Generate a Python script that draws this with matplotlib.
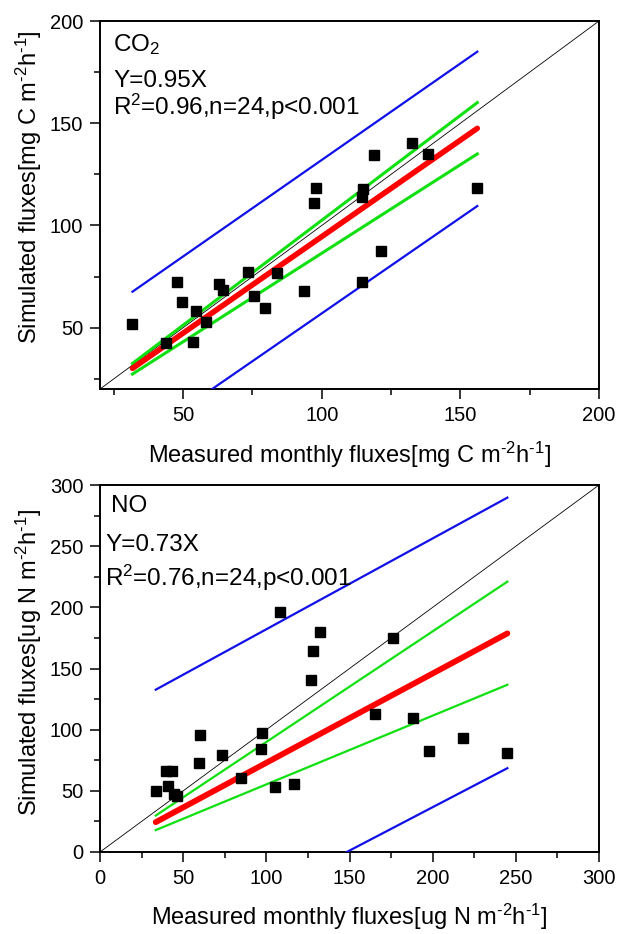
import numpy as np
import matplotlib
matplotlib.use("Agg")
import matplotlib.pyplot as plt

# -----------------------------
# Data
# -----------------------------

co2_measured = [31.7, 43.7, 47.9, 49.5, 54.8, 53.4, 58.2, 62.8, 64.2, 73.2,
                75.4, 79.6, 83.9, 93.7, 97.3, 98.0, 114.6, 114.8, 114.5,
                118.8, 121.4, 132.5, 138.3, 156.1]
co2_simulated = [51.8, 42.4, 72.5, 62.6, 58.3, 42.8, 52.9, 71.4, 68.4, 77.4,
                 65.5, 59.8, 76.9, 67.9, 110.8, 118.5, 72.5, 117.6, 113.7,
                 134.5, 87.7, 140.2, 135.0, 118.2]

# line end values at min / max measured flux
co2_fit = [30.1, 147.5]
co2_conf_upper = [32.5, 160.1]
co2_conf_lower = [27.3, 135.0]
co2_pred_upper = [67.6, 185.0]
co2_pred_lower = [-6.9, 109.5]

no_measured = [33.5, 39.6, 43.2, 40.6, 46.0, 44.5, 59.4, 60.0, 73.6, 84.8,
               97.4, 96.9, 105.0, 108.1, 116.9, 127.1, 127.8, 132.3, 165.3,
               176.0, 188.1, 197.6, 218.3, 244.9]
no_simulated = [50.0, 66.5, 66.5, 54.0, 46.0, 47.5, 73.0, 95.6, 79.3, 60.4,
                96.9, 83.9, 52.8, 196.6, 55.5, 140.3, 164.1, 180.1, 112.6,
                174.7, 109.7, 82.9, 92.9, 80.7]

no_fit = [24.4, 178.7]
no_conf_upper = [29.8, 221.0]
no_conf_lower = [17.9, 136.7]
no_pred_upper = [132.7, 289.7]
no_pred_lower = [-81.5, 68.5]

co2_ticks = [50, 100, 150, 200]
co2_minor = [25, 75, 125, 175]
no_ticks = [0, 50, 100, 150, 200, 250, 300]
no_minor = [25, 75, 125, 175, 225, 275]

# -----------------------------
# Style
# -----------------------------

plt.rcParams["font.family"] = ["Liberation Sans", "DejaVu Sans"]
plt.rcParams["mathtext.fontset"] = "custom"
plt.rcParams["mathtext.rm"] = "Liberation Sans"
plt.rcParams["mathtext.it"] = "Liberation Sans"
plt.rcParams["mathtext.default"] = "regular"

unit_c = r"[mg C m$^{\text{-}2}$h$^{\text{-}1}$]"
unit_n = r"[ug N m$^{\text{-}2}$h$^{\text{-}1}$]"

fig = plt.figure(figsize=(6.19, 9.34), dpi=100)

ax1 = fig.add_axes([0.1616, 0.5835, 0.8061, 0.3940])
ax2 = fig.add_axes([0.1616, 0.0878, 0.8061, 0.3929])


def draw_panel(ax, meas, sim, fit, cu, cl, pu, pl, lim, ticks, minor,
               lw_fit, lw_conf):
    x = [min(meas), max(meas)]

    ax.plot(lim, lim, color="black", lw=0.6, zorder=2)
    ax.plot(x, pu, color="#1010e8", lw=1.6, zorder=3)
    ax.plot(x, pl, color="#1010e8", lw=1.6, zorder=3)
    ax.plot(x, cu, color="#10e010", lw=lw_conf, zorder=4)
    ax.plot(x, cl, color="#10e010", lw=lw_conf, zorder=4)
    ax.plot(x, fit, color="#ff0000", lw=lw_fit, solid_capstyle="round",
            zorder=5)
    ax.plot(meas, sim, "s", color="black", markersize=7.5, zorder=6)

    ax.set_xlim(lim)
    ax.set_ylim(lim)
    ax.set_xticks(ticks)
    ax.set_yticks(ticks)
    ax.set_xticks(minor, minor=True)
    ax.set_yticks(minor, minor=True)

    ax.tick_params(which="major", direction="out", length=7, width=1.1,
                   labelsize=14.5, pad=5)
    ax.tick_params(which="minor", direction="out", length=4.5, width=1.1)
    for s in ax.spines.values():
        s.set_linewidth(1.4)


# -----------------------------
# CO2 panel
# -----------------------------

draw_panel(ax1, co2_measured, co2_simulated, co2_fit, co2_conf_upper,
           co2_conf_lower, co2_pred_upper, co2_pred_lower, [20, 200],
           co2_ticks, co2_minor, lw_fit=4.0, lw_conf=2.2)

ax1.text(0.026, 0.918, "CO$_2$", transform=ax1.transAxes, fontsize=17.5)
ax1.text(0.026, 0.822, "Y=0.95X", transform=ax1.transAxes, fontsize=17.5)
ax1.text(0.026, 0.745, "R$^2$=0.96,n=24,p<0.001", transform=ax1.transAxes,
         fontsize=17.5)

ax1.set_xlabel("Measured monthly fluxes" + unit_c, fontsize=17, labelpad=11)
ax1.set_ylabel("Simulated fluxes" + unit_c, fontsize=17)
ax1.yaxis.set_label_coords(-0.113, 0.548)

# -----------------------------
# NO panel
# -----------------------------

draw_panel(ax2, no_measured, no_simulated, no_fit, no_conf_upper,
           no_conf_lower, no_pred_upper, no_pred_lower, [0, 300],
           no_ticks, no_minor, lw_fit=4.2, lw_conf=1.6)

ax2.text(0.0215, 0.927, "NO", transform=ax2.transAxes, fontsize=17.5)
ax2.text(0.010, 0.820, "Y=0.73X", transform=ax2.transAxes, fontsize=17.5)
ax2.text(0.010, 0.725, "R$^2$=0.76,n=24,p<0.001", transform=ax2.transAxes,
         fontsize=17.5)

ax2.set_xlabel("Measured monthly fluxes" + unit_n, fontsize=17, labelpad=10)
ax2.set_ylabel("Simulated fluxes" + unit_n, fontsize=17)
ax2.yaxis.set_label_coords(-0.113, 0.516)

fig.savefig("out.png", dpi=100)
